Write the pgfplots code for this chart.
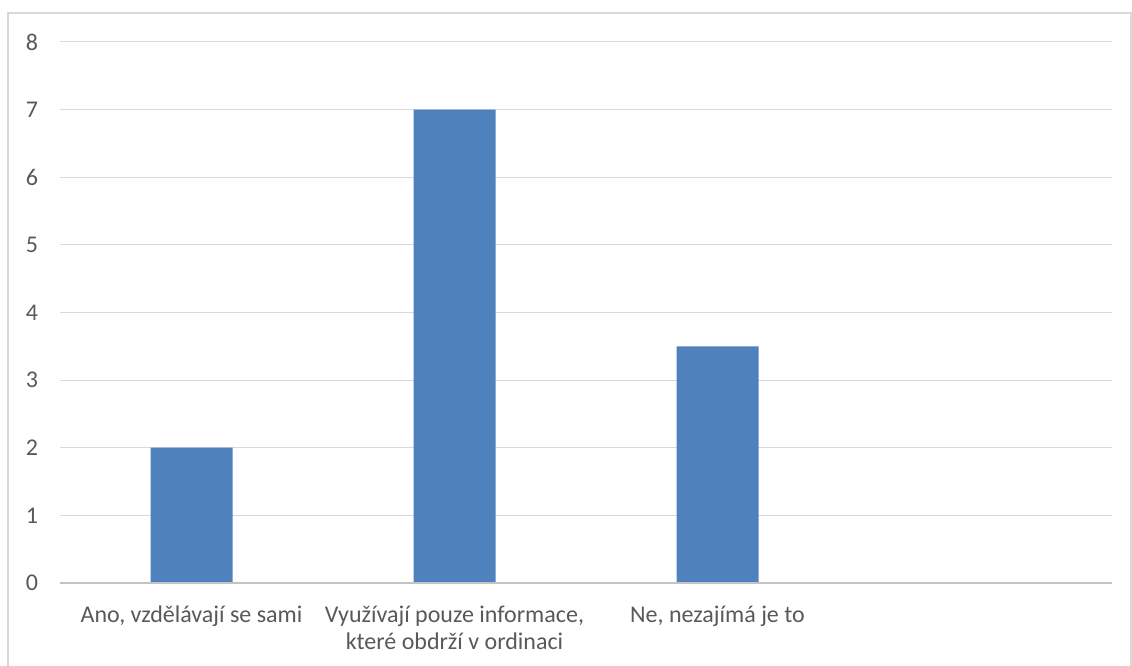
\documentclass[border=0pt]{standalone}
\usepackage{pgfplots}
\pgfplotsset{compat=1.18}
\usepackage{fontspec}
\setmainfont{Carlito}
\definecolor{barblue}{HTML}{4F81BD}
\definecolor{gridgray}{HTML}{D9D9D9}
\definecolor{textgray}{HTML}{595959}
\begin{document}
\begin{tikzpicture}
% page area
\useasboundingbox (0pt,0pt) rectangle (849pt,499.5pt);
% chart frame (top, left, right edges)
\draw[gridgray, line width=1.1pt] (6pt,-4pt) -- (6pt,489.75pt) -- (848.25pt,489.75pt) -- (848.25pt,-4pt);
\begin{axis}[
  at={(45pt,62.25pt)}, anchor=south west,
  scale only axis,
  width=789pt, height=405.75pt,
  xmin=-0.5, xmax=3.5,
  ymin=0, ymax=8,
  xtick={0,1,2},
  xticklabels={{Ano, vzdělávají se sami},{Využívají pouze informace,\\které obdrží v ordinaci},{Ne, nezajímá je to}},
  xticklabel style={align=center, font=\fontsize{18}{20.5}\selectfont, text=textgray},
  ytick={0,1,...,8},
  yticklabel style={font=\fontsize{18}{20.5}\selectfont, text=textgray},
  /pgf/number format/assume math mode=true,
  axis line style={draw=none},
  major tick length=0pt,
  ymajorgrids,
  grid style={gridgray, line width=0.75pt},
  xtick style={draw=none}, ytick style={draw=none},
  xticklabel shift=13.5pt,
  yticklabel shift=13pt,
  clip=false,
]
\addplot[ybar, bar width=61.5pt, fill=barblue, draw=none] coordinates {(0,2) (1,7) (2,3.5)};
\draw[gridgray!90!black, line width=1pt] (axis cs:-0.5,0) -- (axis cs:3.5,0);
\end{axis}
\end{tikzpicture}
\end{document}
